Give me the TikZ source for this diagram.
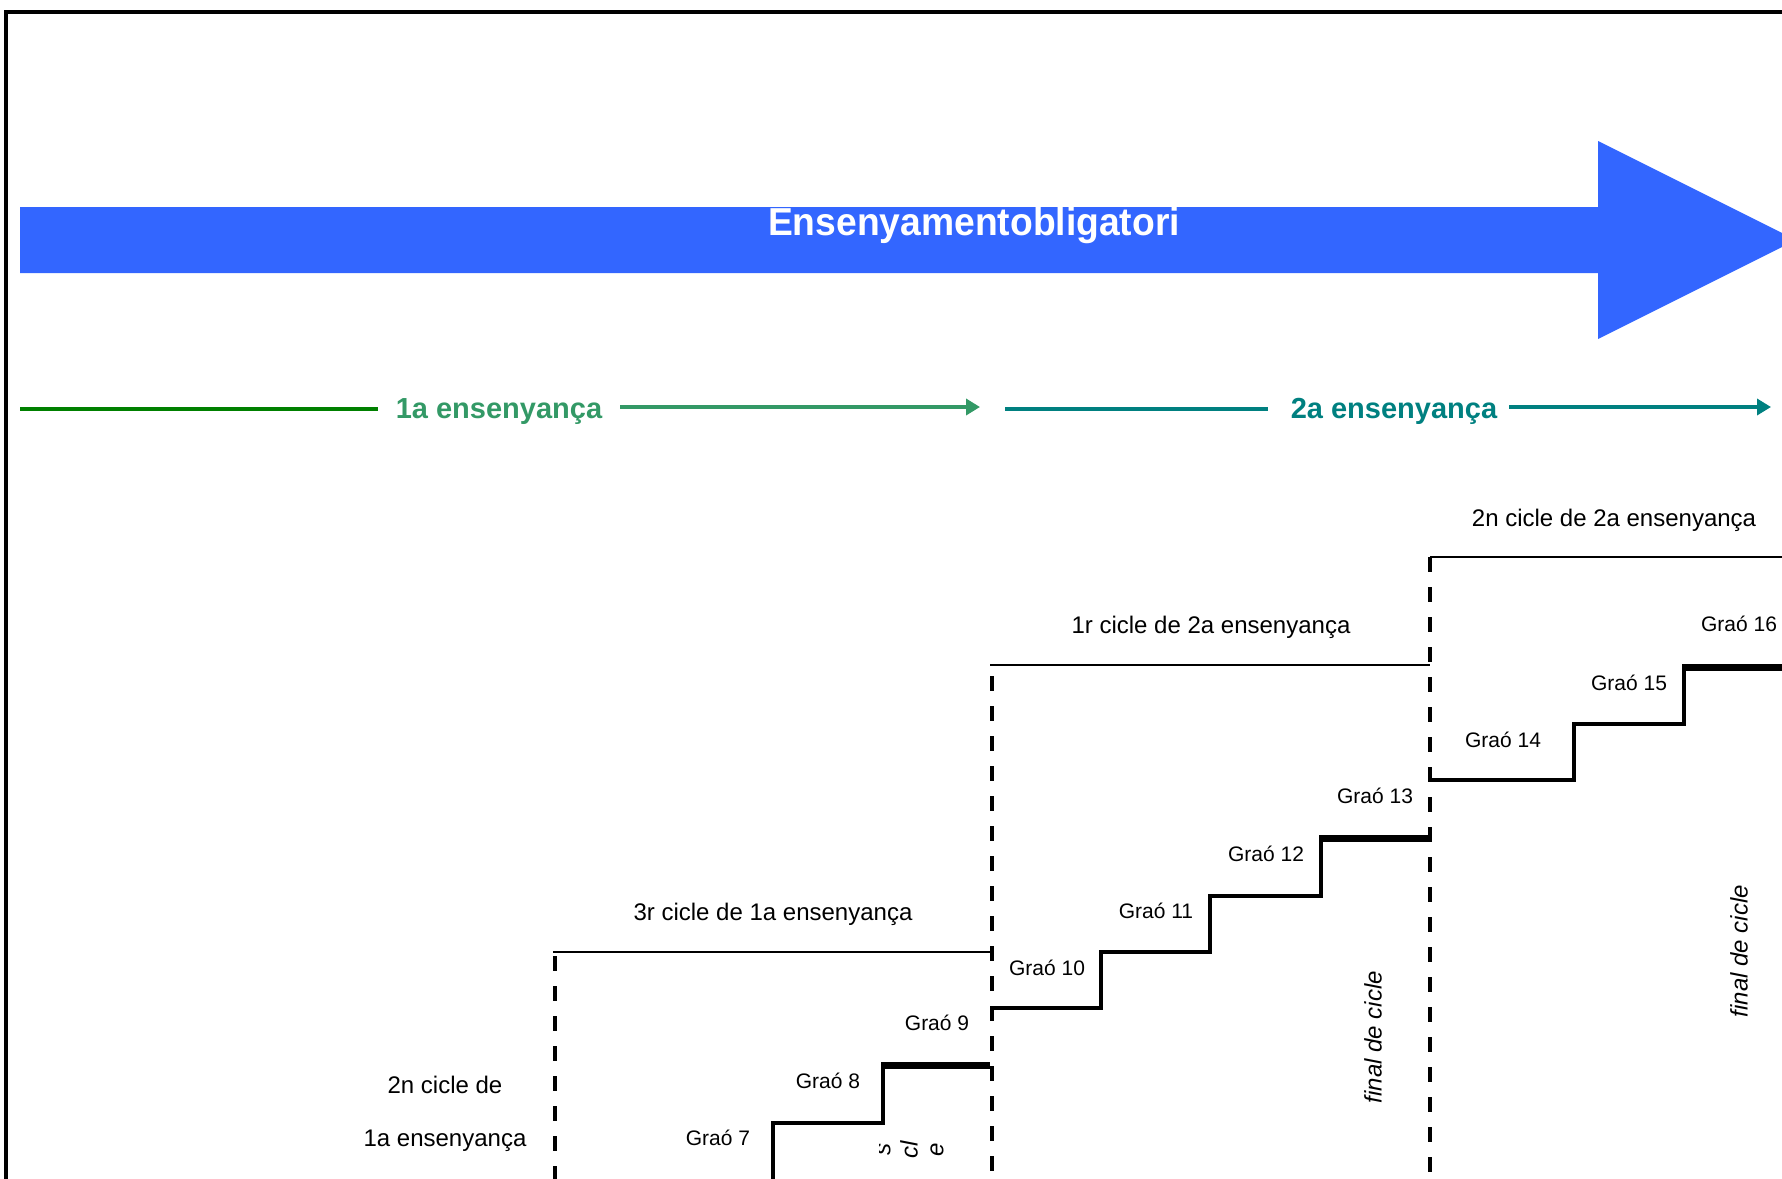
\documentclass[tikz,border=0pt]{standalone}
\usepackage{fontspec}
\setmainfont{Liberation Sans}
\usetikzlibrary{arrows.meta}
\definecolor{arrowblue}{RGB}{51,102,255}
\definecolor{dkgreen}{RGB}{0,128,0}
\definecolor{seagreen}{RGB}{51,153,102}
\definecolor{tealc}{RGB}{0,128,128}
\begin{document}
\begin{tikzpicture}[x=1pt,y=-1pt,
  grao/.style={font=\fontsize{21}{25}\selectfont, anchor=base, inner sep=0pt},
  cyc/.style={font=\fontsize{24}{28}\selectfont, anchor=base, inner sep=0pt},
  fin/.style={font=\fontsize{24}{28}\selectfont\itshape, rotate=90, inner sep=0pt},
  head/.style={font=\fontsize{29}{33}\selectfont\bfseries, anchor=base, inner sep=0pt},
  stair/.style={line width=3.5pt},
  thickstep/.style={line width=7pt},
  topline/.style={line width=2pt},
  dashv/.style={line width=4pt, dash pattern=on 15pt off 15pt},
  band/.style={line width=4pt},
]
\useasboundingbox (0,0) rectangle (1782,1178);
\clip (0,0) rectangle (1782,1178);

% frame
\draw[line width=3.5pt] (6,1190) -- (6,12) -- (1795,12);

% big blue arrow
\fill[arrowblue] (20,207) -- (1598,207) -- (1598,141) -- (1796,240) -- (1598,339) -- (1598,273) -- (20,273) -- cycle;
\node[anchor=base, inner sep=0pt, text=white, font=\fontsize{39}{43}\selectfont\bfseries] (title) at (974,235) {\scalebox{0.955}[1]{Ensenyamentobligatori}};

% 1a ensenyanca band
\coordinate (g1a) at (20,409);
\coordinate (g1b) at (378,409);
\coordinate (g1c) at (620,407);
\coordinate (g1d) at (980,407);
\node[head, text=seagreen] (l1a) at (499,418) {1a ensenyança};
\draw[band, dkgreen] (g1a) -- (g1b);
\draw[band, seagreen, -{Triangle[length=14pt,width=16pt]}] (g1c) -- (g1d);

% 2a ensenyanca band
\coordinate (g2a) at (1005,409);
\coordinate (g2b) at (1268,409);
\coordinate (g2c) at (1509,407);
\coordinate (g2d) at (1771,407);
\node[head, text=tealc] (l2a) at (1394,418) {2a ensenyança};
\draw[band, tealc] (g2a) -- (g2b);
\draw[band, tealc, -{Triangle[length=14pt,width=16pt]}] (g2c) -- (g2d);

% cycle top lines
\draw[topline] (553,952) -- (990,952);
\draw[topline] (990,665) -- (1430,665);
\draw[topline] (1430,557) -- (1795,557);

% dashed separators
\draw[dashv] (555,956) -- (555,1190);
\draw[dashv] (992,676) -- (992,1190);
\draw[dashv] (1430,557) -- (1430,1190);

% cycle labels
\node[cyc] (c3a) at (773,920) {3r cicle de 1a ensenyança};
\node[cyc] (c1b) at (1211,633) {1r cicle de 2a ensenyança};
\node[cyc] (c2b) at (1614,526) {2n cicle de 2a ensenyança};
\node[cyc] (c2a1) at (445,1093) {2n cicle de};
\node[cyc] (c2a2) at (445,1146) {1a ensenyança};

% stairs: 3r cicle de 1a
\draw[stair] (773,1195) -- (773,1123) -- (883,1123) -- (883,1062);
\draw[thickstep] (881,1065) -- (990,1065);
% stairs: 1r cicle de 2a
\draw[stair] (994,1008) -- (1101,1008) -- (1101,952) -- (1210,952) -- (1210,896) -- (1321,896) -- (1321,835);
\draw[thickstep] (1319,838) -- (1430,838);
% stairs: 2n cicle de 2a
\draw[stair] (1432,780) -- (1574,780) -- (1574,724) -- (1684,724) -- (1684,664);
\draw[thickstep] (1682,667) -- (1795,667);

% step labels
\node[grao] (g7)  at (718,1145) {Graó 7};
\node[grao] (g8)  at (828,1088) {Graó 8};
\node[grao] (g9)  at (937,1030) {Graó 9};
\node[grao] (g10) at (1047,975) {Graó 10};
\node[grao] (g11) at (1156,918) {Graó 11};
\node[grao] (g12) at (1266,861) {Graó 12};
\node[grao] (g13) at (1375,803) {Graó 13};
\node[grao] (g14) at (1503,747) {Graó 14};
\node[grao] (g15) at (1629,690) {Graó 15};
\node[grao] (g16) at (1739,631) {Graó 16};

% end-of-cycle notes
\node[fin] (f1) at (1373,1037) {final de cicle};
\node[fin] (f2) at (1739,951) {final de cicle};

% clipped fragment of the note in the 3r cicle de 1a
\begin{scope}
\clip (879,1130) rectangle (960,1170);
\node[fin] (f3a) at (884,1149) {s};
\node[fin] (f3b) at (909,1150) {cl};
\node[fin] (f3c) at (937,1150) {e};
\end{scope}
\end{tikzpicture}
\end{document}
